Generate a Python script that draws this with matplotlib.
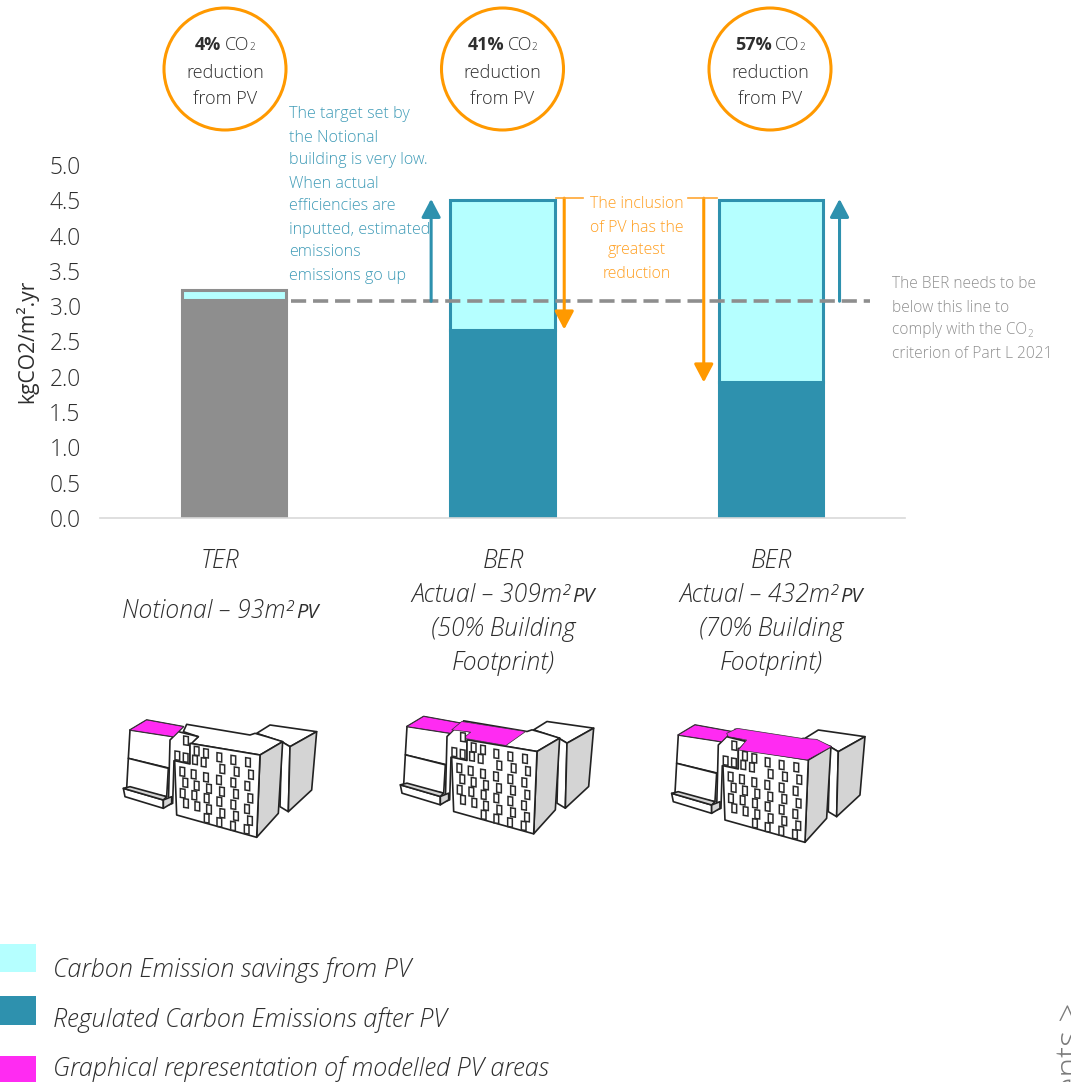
import matplotlib
matplotlib.use('Agg')
import matplotlib.pyplot as plt
from matplotlib.patches import Circle, Polygon, Rectangle

# values
categories = ['TER', 'BER 309', 'BER 432']
after_pv = [3.09, 2.66, 1.92]
savings_pv = [0.14, 1.85, 2.59]
target_line = 3.07
y_ticks = [0.0, 0.5, 1.0, 1.5, 2.0, 2.5, 3.0, 3.5, 4.0, 4.5, 5.0]
reductions = ['4%', '41%', '57%']
cat_labels = [
    ['TER', 'Notional – 93m²|PV'],
    ['BER', 'Actual – 309m²|PV', '(50% Building', 'Footprint)'],
    ['BER', 'Actual – 432m²|PV', '(70% Building', 'Footprint)'],
]
teal_note = ['The target set by', 'the Notional', 'building is very low.', 'When actual',
             'efficiencies are', 'inputted, estimated', 'emissions', 'emissions go up']
orange_note = ['The inclusion', 'of PV has the', 'greatest', 'reduction']
legend_labels = ['Carbon Emission savings from PV', 'Regulated Carbon Emissions after PV',
                 'Graphical representation of modelled PV areas']

LIGHT = '#b5ffff'
TEAL = '#2e91ae'
GREY = '#8e8e8e'
ORANGE = '#ff9900'
MAGENTA = '#ff2bf2'
INK = '#2e2e2e'
FONT = 'Open Sans'

plt.rcParams['font.family'] = [FONT, 'DejaVu Sans']
plt.rcParams['font.weight'] = 'light'

W, H = 1071, 1082
fig = plt.figure(figsize=(W / 100, H / 100), dpi=100)
ax = fig.add_axes([100 / W, 1 - 518 / H, 805 / W, 353 / H])
ov = fig.add_axes([0, 0, 1, 1], zorder=5)
ov.set_xlim(0, W)
ov.set_ylim(H, 0)
ov.axis('off')
ov.patch.set_alpha(0)
renderer = fig.canvas.get_renderer()


def runs(x, y, parts, ha='center', color=INK):
    # several pieces of text on one baseline: (text, size, weight, style, lift, gap)
    items = []
    total = 0
    for text, size, weight, style, lift, gap in parts:
        t = ov.text(0, y - lift, text, fontsize=size, fontweight=weight, fontstyle=style,
                    color=color, va='baseline', ha='left')
        w = t.get_window_extent(renderer).width
        items.append((t, w, gap))
        total += w + gap
    start = x - total / 2 if ha == 'center' else x
    for t, w, gap in items:
        t.set_x(start)
        start += w + gap


# bars
positions = list(range(len(categories)))
bar_w = 0.39
for i in positions:
    edge = GREY if i == 0 else TEAL
    ax.bar(i, after_pv[i], width=bar_w, color=edge, edgecolor=edge, linewidth=2.2, zorder=2)
    ax.bar(i, savings_pv[i], bottom=after_pv[i], width=bar_w, color=LIGHT, edgecolor=edge,
           linewidth=2.2, zorder=2)

ax.set_xlim(-0.5, 2.5)
ax.set_ylim(0, 5)
ax.set_xticks([])
ax.set_yticks(y_ticks)
ax.set_yticklabels([f'{v:.1f}' for v in y_ticks], fontsize=16.4, color=INK)
ax.tick_params(axis='y', length=0, pad=14)
for side in ['top', 'right', 'left']:
    ax.spines[side].set_visible(False)
ax.spines['bottom'].set_color('#d9d9d9')
ax.spines['bottom'].set_linewidth(1.2)
ax.set_ylabel('kgCO2/m².yr', fontsize=15.2, color=INK)
ax.yaxis.set_label_coords(-62 / 805, 0.5)

# target line
ax.plot([0.21, 2.37], [target_line, target_line], color=GREY, lw=2.6,
        dashes=(4.2, 1.9), zorder=4, clip_on=False)


def arrow(x, y0, y1, color):
    ax.annotate('', xy=(x, y1), xytext=(x, y0), zorder=5,
                arrowprops=dict(arrowstyle='-|>,head_width=5.8,head_length=11', mutation_scale=1,
                                color=color, lw=2.2, shrinkA=0, shrinkB=0))


arrow(0.734, target_line, 4.52, TEAL)
arrow(2.256, target_line, 4.52, TEAL)
arrow(1.23, 4.53, 2.67, ORANGE)
arrow(1.75, 4.53, 1.92, ORANGE)
ax.plot([1.2, 1.3], [4.53, 4.53], color='#ffa733', lw=1.2, zorder=5)
ax.plot([1.69, 1.8], [4.53, 4.53], color='#ffa733', lw=1.2, zorder=5)

# circles along the top
for cx, pct in zip([225, 502.5, 770], reductions):
    ov.add_patch(Circle((cx, 69), 61, facecolor='white', edgecolor=ORANGE, lw=2.2))
    runs(cx, 50.5, [(pct, 13, 'bold', 'normal', 0, 3.5), ('CO', 13, 'light', 'normal', 0, 0),
                    ('2', 7, 'light', 'normal', 0, 0)])
    runs(cx, 77.5, [('reduction', 13, 'light', 'normal', 0, 0)])
    runs(cx, 104.5, [('from PV', 13, 'light', 'normal', 0, 0)])

# notes
for k, line in enumerate(teal_note):
    ov.text(289, 118.5 + 23 * k, line, fontsize=11.6, color='#3f9bb7', va='baseline', ha='left')
for k, line in enumerate(orange_note):
    ov.text(637, 208.5 + 23 * k, line, fontsize=11.4, color='#ff9f20', va='baseline', ha='center')
grey_note = ['The BER needs to be', 'below this line to', None, 'criterion of Part L 2021']
for k, line in enumerate(grey_note):
    if line:
        ov.text(892, 288.5 + 23 * k, line, fontsize=11.2, color='#8f8f8f', va='baseline', ha='left')
runs(892, 334.5, [('comply with the CO', 11.2, 'light', 'normal', 0, 0),
                  ('2', 7, 'light', 'normal', -2.5, 0)], ha='left', color='#8f8f8f')

# category labels under the axis
label_rows = {2: [568.5, 618.5], 4: [568.5, 601.5, 636.5, 669.5]}
for cx, lines in zip([220, 503, 771], cat_labels):
    for line, y in zip(lines, label_rows[len(lines)]):
        if '|' in line:
            main, small = line.split('|')
            runs(cx, y, [(main, 17.8, 'light', 'italic', 0, 3), (small, 14.5, 'normal', 'italic', 0, 0)])
        else:
            runs(cx, y, [(line, 17.8, 'light', 'italic', 0, 0)])

# building sketches, outlines in pixels of the first sketch (x3) and shifted for the others
WINDOWS = [(358, 202), (400, 210), (444, 217), (367, 237), (410, 245), (453, 254), (247, 245), (281, 253),
           (318, 262), (357, 270), (400, 278), (442, 288), (256, 278), (290, 287), (327, 296), (366, 305),
           (408, 312), (451, 325), (248, 310), (283, 316), (320, 325), (358, 335), (400, 344), (441, 357),
           (258, 340), (292, 349), (327, 358), (367, 370), (408, 378), (450, 392), (320, 385), (358, 397),
           (399, 408), (440, 418), (290, 183), (318, 190), (258, 152), (232, 197), (257, 203), (285, 210),
           (311, 217)]
WHITE_FACES = [
    [(470, 130), (510, 105), (650, 125), (570, 170), (545, 155)],
    [(545, 155), (570, 170), (565, 365), (540, 350)],
    [(90, 120), (140, 90), (250, 110), (220, 140)],
    [(90, 120), (220, 140), (210, 235), (85, 205)],
    [(85, 205), (205, 235), (200, 320), (80, 295)],
    [(70, 295), (190, 330), (190, 355), (75, 320)],
    [(260, 103), (450, 135), (465, 130), (500, 140), (548, 155), (480, 195), (270, 160), (295, 140), (250, 125)],
    [(210, 150), (235, 125), (295, 140), (270, 165), (270, 222), (222, 212), (218, 340), (205, 345)],
]
GREY_FACES = [
    [(570, 170), (650, 125), (635, 300), (565, 365)],
    [(480, 195), (548, 155), (535, 370), (470, 442)],
    [(70, 295), (90, 290), (200, 320), (190, 330)],
    [(190, 330), (215, 320), (215, 340), (190, 355)],
]
FRONT = [(270, 160), (480, 195), (470, 442), (230, 375), (224, 212), (270, 222)]
ROOF_LEFT = [(90, 120), (140, 90), (250, 110), (220, 140)]
ROOF_50 = [(224, 130), (254, 105), (446, 135), (387, 177), (259, 155), (281, 137)]
ROOF_70 = [(235, 115), (267, 100), (460, 130), (505, 133), (550, 155), (477, 195), (270, 165), (295, 135), (240, 125)]


def building(dx, dy, roofs):
    def px(pts):
        return [(100 + x / 3 + dx, 690 + y / 3 + dy) for x, y in pts]

    for pts in WHITE_FACES:
        ov.add_patch(Polygon(px(pts), facecolor='white', edgecolor='#222222', lw=1.2, joinstyle='round'))
    for pts in GREY_FACES:
        ov.add_patch(Polygon(px(pts), facecolor='#d4d4d4', edgecolor='#222222', lw=1.2, joinstyle='round'))
    ov.add_patch(Polygon(px(FRONT), facecolor='white', edgecolor='#222222', lw=1.2, joinstyle='round'))
    for pts in roofs:
        ov.add_patch(Polygon(px(pts), facecolor=MAGENTA, edgecolor='#333333', lw=0.5))
    for wx, wy in WINDOWS:
        ov.add_patch(Polygon(px([(wx - 7, wy - 14), (wx + 7, wy - 12), (wx + 7, wy + 14), (wx - 7, wy + 12)]),
                             facecolor='white', edgecolor='#2a2a2a', lw=1.1))


building(0, 0, [ROOF_LEFT])
building(277, -3.5, [ROOF_LEFT, ROOF_50])
building(548.3, 5, [ROOF_LEFT, ROOF_70])

# legend
for (y0, y1), colour, text, base in zip([(944, 972), (996, 1025), (1056, 1082)], [LIGHT, TEAL, MAGENTA],
                                        legend_labels, [977, 1027, 1076]):
    ov.add_patch(Rectangle((0, y0), 36, y1 - y0, facecolor=colour, edgecolor='none'))
    ov.text(53, base, text, fontsize=18.2, fontstyle='italic', color=INK, va='baseline', ha='left')

# cut off text on the right edge of the page
ov.text(1080, 1003, 'ents >', fontsize=24, rotation=90, color='#7a7a7a', ha='right', va='baseline',
        rotation_mode='anchor')

fig.savefig('out.png', dpi=100, facecolor='white')
